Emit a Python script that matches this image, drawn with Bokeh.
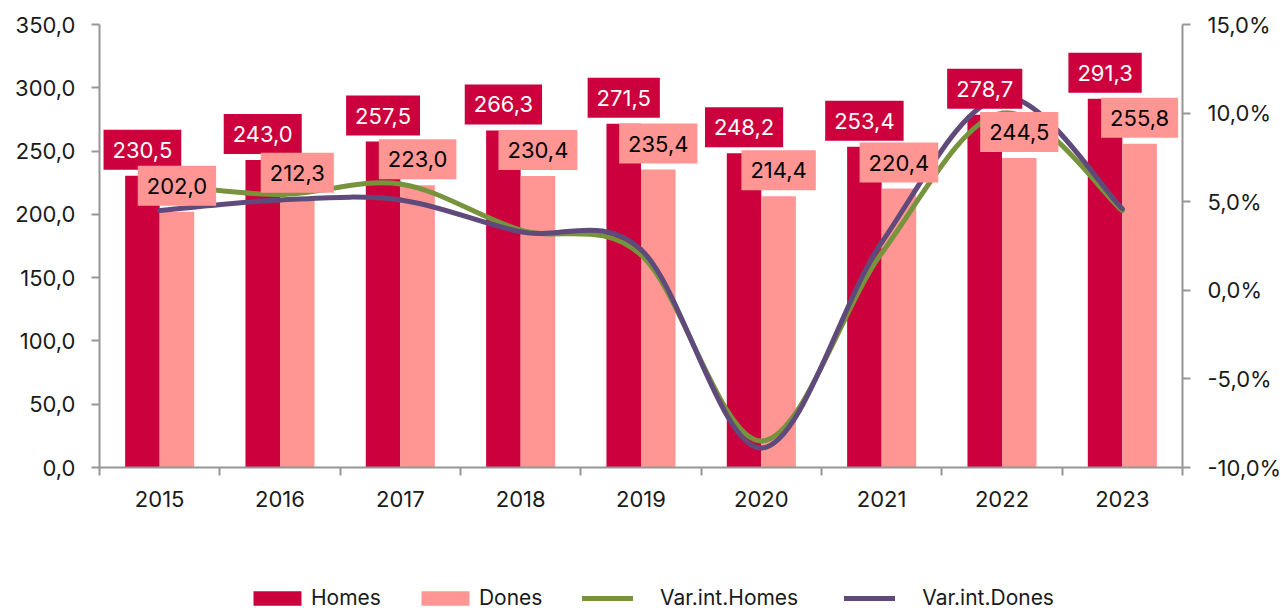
import numpy as np
from bokeh.plotting import figure
from bokeh.layouts import column
from bokeh.models import Range1d, LinearAxis, FixedTicker, ColumnDataSource, Legend, LegendItem
from bokeh.embed import file_html
from bokeh.resources import INLINE
from bokeh.core.properties import value

# ---------------- data ----------------
years = ["2015", "2016", "2017", "2018", "2019", "2020", "2021", "2022", "2023"]
homes = [230.5, 243.0, 257.5, 266.3, 271.5, 248.2, 253.4, 278.7, 291.3]
dones = [202.0, 212.3, 223.0, 230.4, 235.4, 214.4, 220.4, 244.5, 255.8]
var_homes = [6.0, 5.4, 6.0, 3.4, 2.0, -8.5, 2.1, 10.0, 4.5]
var_dones = [4.5, 5.1, 5.1, 3.3, 2.3, -8.9, 2.7, 10.9, 4.6]
homes_labels = ["230,5", "243,0", "257,5", "266,3", "271,5", "248,2", "253,4", "278,7", "291,3"]
dones_labels = ["202,0", "212,3", "223,0", "230,4", "235,4", "214,4", "220,4", "244,5", "255,8"]
left_ticks = [0, 50, 100, 150, 200, 250, 300, 350]
left_tick_labels = ["0,0", "50,0", "100,0", "150,0", "200,0", "250,0", "300,0", "350,0"]
right_ticks = [-10, -5, 0, 5, 10, 15]
right_tick_labels = ["-10,0%", "-5,0%", "0,0%", "5,0%", "10,0%", "15,0%"]
series_names = ["Homes", "Dones", "Var.int.Homes", "Var.int.Dones"]

# ---------------- style ----------------
HOMES_C = "#CC003C"
DONES_C = "#FF9694"
GREEN_C = "#77933C"
PURPLE_C = "#604A7B"
AXIS_C = "#969696"
TEXT_C = "#1A1A1A"
FONT = "Inter"
FS = "22px"
BAR_W = 0.287

n = len(years)
centers = np.arange(n) + 0.5
x_h = centers - BAR_W / 2
x_d = centers + BAR_W / 2

p = figure(frame_width=1083, frame_height=443,
           x_range=Range1d(0, n), y_range=Range1d(0, 350),
           output_backend="svg", toolbar_location=None,
           min_border_left=99, min_border_right=100,
           min_border_top=24, min_border_bottom=117)
p.extra_y_ranges = {"pct": Range1d(-10, 15)}
p.grid.visible = False
p.outline_line_color = None
p.background_fill_color = "white"
p.border_fill_color = "white"

# bars
rh = p.vbar(x=x_h, top=homes, width=BAR_W, fill_color=HOMES_C, line_color=None)
rd = p.vbar(x=x_d, top=dones, width=BAR_W, fill_color=DONES_C, line_color=None)


# smoothed lines (bezier segments through the data points)
def smooth_segments(xs, ys):
    xs = list(xs)
    ys = list(ys)
    m = len(xs)
    seg = dict(x0=[], y0=[], x1=[], y1=[], cx0=[], cy0=[], cx1=[], cy1=[])
    for i in range(m - 1):
        im1 = max(i - 1, 0)
        ip2 = min(i + 2, m - 1)
        seg["x0"].append(xs[i]); seg["y0"].append(ys[i])
        seg["x1"].append(xs[i + 1]); seg["y1"].append(ys[i + 1])
        seg["cx0"].append(xs[i] + (xs[i + 1] - xs[im1]) / 6)
        seg["cy0"].append(ys[i] + (ys[i + 1] - ys[im1]) / 6)
        seg["cx1"].append(xs[i + 1] - (xs[ip2] - xs[i]) / 6)
        seg["cy1"].append(ys[i + 1] - (ys[ip2] - ys[i]) / 6)
    return ColumnDataSource(seg)


for vals, col in ((var_homes, GREEN_C), (var_dones, PURPLE_C)):
    p.bezier(x0="x0", y0="y0", x1="x1", y1="y1", cx0="cx0", cy0="cy0",
             cx1="cx1", cy1="cy1", source=smooth_segments(centers, vals),
             line_color=col, line_width=5, line_cap="round", y_range_name="pct")

# data labels
pad = dict(left=9, right=9, top=12, bottom=12)
p.text(x=x_h, y=homes, text=homes_labels, text_align="center", text_baseline="middle",
       y_offset=-26, text_font=value(FONT), text_font_size=FS, text_color="white",
       background_fill_color=HOMES_C, padding=pad)
p.text(x=x_d, y=dones, text=dones_labels, text_align="center", text_baseline="middle",
       y_offset=-26, text_font=value(FONT), text_font_size=FS, text_color="black",
       background_fill_color=DONES_C, padding=pad)

# axes
xa = p.xaxis[0]
xa.ticker = FixedTicker(ticks=list(centers), minor_ticks=list(range(n + 1)))
xa.major_label_overrides = {float(c): y for c, y in zip(centers, years)}
xa.major_tick_line_color = None
xa.major_tick_out = 0
xa.major_tick_in = 0
xa.minor_tick_line_color = AXIS_C
xa.minor_tick_line_width = 2
xa.minor_tick_out = 8
xa.minor_tick_in = 0
xa.major_label_standoff = 15

ya = p.yaxis[0]
ya.ticker = FixedTicker(ticks=left_ticks)
ya.major_label_overrides = {t: l for t, l in zip(left_ticks, left_tick_labels)}
ya.major_label_standoff = 16

ra = LinearAxis(y_range_name="pct", ticker=FixedTicker(ticks=right_ticks))
ra.major_label_overrides = {t: l for t, l in zip(right_ticks, right_tick_labels)}
ra.major_label_standoff = 17
p.add_layout(ra, "right")

for ax in (xa, ya, ra):
    ax.axis_line_color = AXIS_C
    ax.axis_line_width = 2
    ax.major_label_text_font = FONT
    ax.major_label_text_font_size = FS
    ax.major_label_text_color = TEXT_C
for ax in (ya, ra):
    ax.major_tick_line_color = AXIS_C
    ax.major_tick_line_width = 2
    ax.major_tick_out = 8
    ax.major_tick_in = 0
    ax.minor_tick_line_color = None

# ---------------- legend strip ----------------
lf = figure(width=1282, height=26, x_range=Range1d(0, 1), y_range=Range1d(0, 1),
            x_axis_type=None, y_axis_type=None,
            output_backend="svg", toolbar_location=None,
            min_border_left=0, min_border_right=0, min_border_top=0, min_border_bottom=0)
lf.grid.visible = False
lf.outline_line_color = None
lf.border_fill_color = "white"
lh = lf.vbar(x=[np.nan], top=[np.nan], width=0.1, fill_color=HOMES_C, line_color=None)
ld = lf.vbar(x=[np.nan], top=[np.nan], width=0.1, fill_color=DONES_C, line_color=None)
lg = lf.line(x=[np.nan], y=[np.nan], line_color=GREEN_C, line_width=5, line_cap="round")
lp = lf.line(x=[np.nan], y=[np.nan], line_color=PURPLE_C, line_width=5, line_cap="round")


def style_legend(lgd, glyph_w, standoff, spacing):
    lgd.label_text_font = FONT
    lgd.label_text_font_size = "21px"
    lgd.label_text_color = TEXT_C
    lgd.glyph_width = glyph_w
    lgd.glyph_height = 18
    lgd.label_standoff = standoff
    lgd.spacing = spacing
    lgd.padding = 0
    lgd.margin = 0
    lgd.border_line_color = None
    lgd.background_fill_alpha = 0


bar_legend = Legend(items=[LegendItem(label=series_names[0], renderers=[lh]),
                           LegendItem(label=series_names[1], renderers=[ld])],
                    orientation="horizontal", location=(148, 0))
style_legend(bar_legend, 60, 4, 34)
line_legend = Legend(items=[LegendItem(label=series_names[2], renderers=[lg]),
                            LegendItem(label=series_names[3], renderers=[lp])],
                     orientation="horizontal", location=(483, 0))
style_legend(line_legend, 51, 27, 46)
lf.add_layout(bar_legend, "center")
lf.add_layout(line_legend, "center")

layout = column(p, lf, spacing=0)
open("out.html", "w").write(file_html(layout, INLINE))
